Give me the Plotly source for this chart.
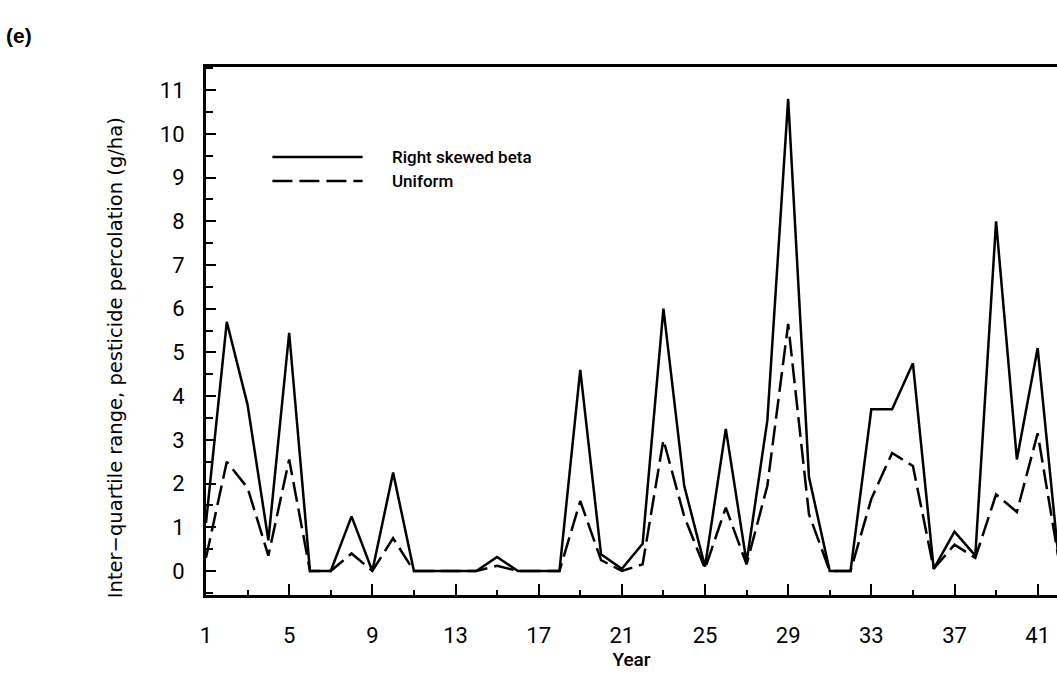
import plotly.graph_objects as go

years = list(range(1, 43))
right_skewed_beta = [1.1, 5.7, 3.8, 0.7, 5.45, 0.0, 0.0, 1.25, 0.0, 2.25,
                     0.0, 0.0, 0.0, 0.0, 0.32, 0.0, 0.0, 0.0, 4.6, 0.38,
                     0.05, 0.62, 6.0, 1.95, 0.1, 3.25, 0.2, 3.45, 10.8, 2.15,
                     0.0, 0.0, 3.7, 3.7, 4.75, 0.05, 0.9, 0.35, 8.0, 2.55,
                     5.1, 0.3]
uniform = [0.3, 2.5, 1.9, 0.35, 2.55, 0.0, 0.0, 0.4, 0.0, 0.75,
           0.0, 0.0, 0.0, 0.0, 0.12, 0.0, 0.0, 0.0, 1.6, 0.25,
           0.0, 0.15, 3.0, 1.25, 0.05, 1.45, 0.15, 1.95, 5.65, 1.3,
           0.0, 0.0, 1.65, 2.7, 2.4, 0.05, 0.6, 0.3, 1.75, 1.35,
           3.15, 0.3]
x_tickvals = list(range(1, 42, 4))
y_tickvals = list(range(0, 12))
series_names = ["Right skewed beta", "Uniform"]

FONT = "Roboto"
DASH = "20px,7px"

fig = go.Figure()
fig.add_trace(go.Scatter(x=years, y=right_skewed_beta, mode="lines",
                         name=series_names[0],
                         line=dict(color="black", width=2.5)))
fig.add_trace(go.Scatter(x=years, y=uniform, mode="lines",
                         name=series_names[1],
                         line=dict(color="black", width=2.5, dash=DASH)))

fig.update_layout(
    width=1057, height=675,
    margin=dict(l=206, r=0, t=67, b=80),
    paper_bgcolor="white", plot_bgcolor="white",
    showlegend=False,
    font=dict(family=FONT, color="black", size=22),
)
fig.update_xaxes(
    range=[1, 41.93], tickvals=x_tickvals, ticktext=[str(v) for v in x_tickvals],
    ticks="inside", ticklen=11, tickwidth=2, tickcolor="black",
    minor=dict(ticks="inside", ticklen=5, tickwidth=2, tickcolor="black",
               tick0=1, dtick=2),
    showline=True, linecolor="black", linewidth=3, mirror=True,
    showgrid=False, zeroline=False,
    tickfont=dict(family=FONT, size=22, color="black"),
    ticklabelstandoff=19,
    title=dict(text="Year", font=dict(family=FONT, size=19, color="black", weight=500),
               standoff=6),
)
fig.update_yaxes(
    range=[-0.55, 11.53], tickvals=y_tickvals,
    ticks="inside", ticklen=10, tickwidth=2, tickcolor="black",
    minor=dict(ticks="inside", ticklen=7, tickwidth=2, tickcolor="black",
               tick0=0, dtick=0.5),
    showline=True, linecolor="black", linewidth=3, mirror=False,
    showgrid=False, zeroline=False,
    tickfont=dict(family=FONT, size=22, color="black"),
    ticklabelstandoff=14,
)

# y-axis title placed as in the reference
fig.add_annotation(
    text="Inter\u2212quartile range, pesticide percolation (g/ha)",
    xref="paper", yref="paper", x=-0.1055, y=0.449, textangle=-90,
    showarrow=False, xanchor="center", yanchor="middle",
    font=dict(family="DejaVu Sans", size=19.5, color="black"),
)
# panel label
fig.add_annotation(
    text="<b>(e)</b>", xref="paper", yref="paper", x=-0.2368, y=1.06,
    showarrow=False, xanchor="left", yanchor="middle",
    font=dict(family="Liberation Sans", size=21, color="black"),
)

# custom legend (line samples + labels)
leg_x0, leg_x1, leg_tx = 0.078, 0.184, 0.216
leg_y = [0.8295, 0.784]
for i, name in enumerate(series_names):
    fig.add_shape(type="line", xref="paper", yref="paper",
                  x0=leg_x0, x1=leg_x1, y0=leg_y[i], y1=leg_y[i],
                  line=dict(color="black", width=2.5,
                            dash="solid" if i == 0 else DASH))
    fig.add_annotation(text=name, xref="paper", yref="paper",
                       x=leg_tx, y=leg_y[i], showarrow=False,
                       xanchor="left", yanchor="middle",
                       font=dict(family=FONT, size=17, color="black", weight=500))

fig.write_html("out.html")
